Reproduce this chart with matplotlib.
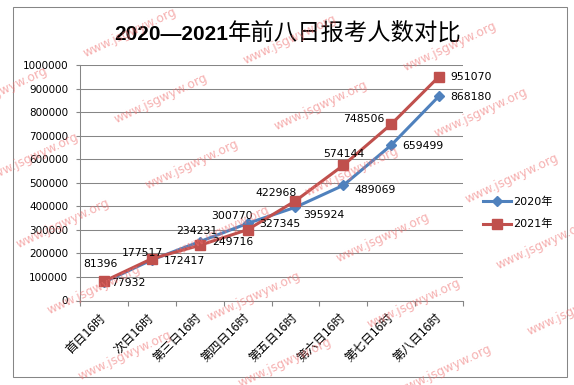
import numpy as np
import matplotlib.pyplot as plt
from matplotlib.patches import Rectangle

categories = ['首日16时', '次日16时', '第三日16时', '第四日16时',
              '第五日16时', '第六日16时', '第七日16时', '第八日16时']
values2020 = [77932, 172417, 249716, 327345, 395924, 489069, 659499, 868180]
values2021 = [81396, 177517, 234231, 300770, 422968, 574144, 748506, 951070]
seriesNames = ['2020年', '2021年']
yTicks = list(range(0, 1000001, 100000))

# label offsets in pixels (dx, dy), hand placed like the excel chart
offsets2020 = [(24, -1), (33, -1), (33, 0), (32, -1), (28, -8), (32, -5), (32, -1), (32, -1)]
offsets2021 = [(-4, 17), (-9, 6), (-3, 14), (-16, 14), (-19, 8), (0, 11), (-27, 5), (32, 0)]

W, H = 574, 385
BLUE = '#4F81BD'
RED = '#C0504D'
GRAY = '#868686'


def main():
    plt.rcParams['font.family'] = ['DejaVu Sans', 'Noto Sans CJK SC']
    fig = plt.figure(figsize=(W / 100, H / 100), dpi=100)
    fig.patch.set_facecolor('white')

    ax = fig.add_axes([80 / W, 1 - 300.5 / H, (463 - 80) / W, (300.5 - 65) / H])
    x = np.arange(len(categories))

    ax.plot(x, values2020, color=BLUE, lw=2.2, marker='D', ms=5, mew=1,
            mfc=BLUE, mec=BLUE, label=seriesNames[0], zorder=3)
    ax.plot(x, values2021, color=RED, lw=2.2, marker='s', ms=6.5, mew=1,
            mfc=RED, mec=RED, label=seriesNames[1], zorder=4)

    addLabels(ax, x, values2020, offsets2020)
    addLabels(ax, x, values2021, offsets2021)

    styleAxes(ax, x)

    ax.legend(loc='center left', bbox_to_anchor=(483 / W, 1 - 213 / H),
              bbox_transform=fig.transFigure, frameon=False, fontsize=8,
              handlelength=2.5, handletextpad=0.2, labelspacing=1.1,
              borderpad=0, borderaxespad=0)

    # title: bold digits + CJK part
    fig.text(228 / W, 1 - 40 / H, '2020—2021', family='Liberation Sans',
             weight='bold', fontsize=15, ha='right', va='baseline')
    fig.text(228 / W, 1 - 40 / H, '年前八日报考人数对比', family='Noto Sans CJK SC',
             fontsize=16.8, ha='left', va='baseline')

    fig.patches.append(Rectangle((12.7 / W, 1 - 377 / H), (567 - 12.7) / W, (377 - 7) / H,
                                 transform=fig.transFigure, fill=False,
                                 edgecolor=GRAY, lw=0.75))

    addWatermarks(fig)
    fig.savefig('out.png', dpi=100)


def addLabels(ax, x, values, offsets):
    for xi, v, (dx, dy) in zip(x, values, offsets):
        ax.annotate(str(v), (xi, v), xytext=(dx, dy), textcoords='offset pixels',
                    ha='center', va='center', fontsize=7.8, color='black', zorder=5)


def styleAxes(ax, x):
    ax.set_xlim(-0.5, len(categories) - 0.5)
    ax.set_ylim(0, 1000000)
    ax.set_yticks(yTicks)
    ax.set_yticklabels([str(t) for t in yTicks], fontsize=7.5)
    ax.yaxis.grid(True, color=GRAY, lw=0.75)
    ax.set_axisbelow(True)

    ax.set_xticks(np.arange(len(categories) + 1) - 0.5)
    ax.set_xticklabels([])
    ax.set_xticks(x, minor=True)
    ax.set_xticklabels(categories, minor=True, rotation=45, rotation_mode='anchor',
                       ha='right', va='center', fontsize=8.8,
                       family=['Noto Sans CJK SC', 'DejaVu Sans'])
    ax.tick_params(axis='x', which='minor', length=0, pad=11)
    ax.tick_params(axis='x', which='major', length=3.6, color=GRAY, direction='out')
    ax.tick_params(axis='y', length=3, color=GRAY, direction='out', pad=5.5)

    for side in ['top', 'right']:
        ax.spines[side].set_visible(False)
    for side in ['left', 'bottom']:
        ax.spines[side].set_color(GRAY)
        ax.spines[side].set_linewidth(0.75)


def addWatermarks(fig):
    base = np.array([161.0, 99.0])
    stepA = np.array([160.0, 7.0])
    stepB = np.array([31.0, 66.0])
    for i in range(-3, 5):
        for j in range(-3, 7):
            cx, cy = base + i * stepA + j * stepB
            if -25 < cx < W + 25 and -10 < cy < H + 5:
                fig.text(cx / W, 1 - cy / H, 'www.jsgwyw.org', fontsize=8.9,
                         rotation=25, rotation_mode='anchor', ha='center', va='center',
                         color='#EE7070', alpha=0.55, zorder=10)


if __name__ == "__main__":
    main()
